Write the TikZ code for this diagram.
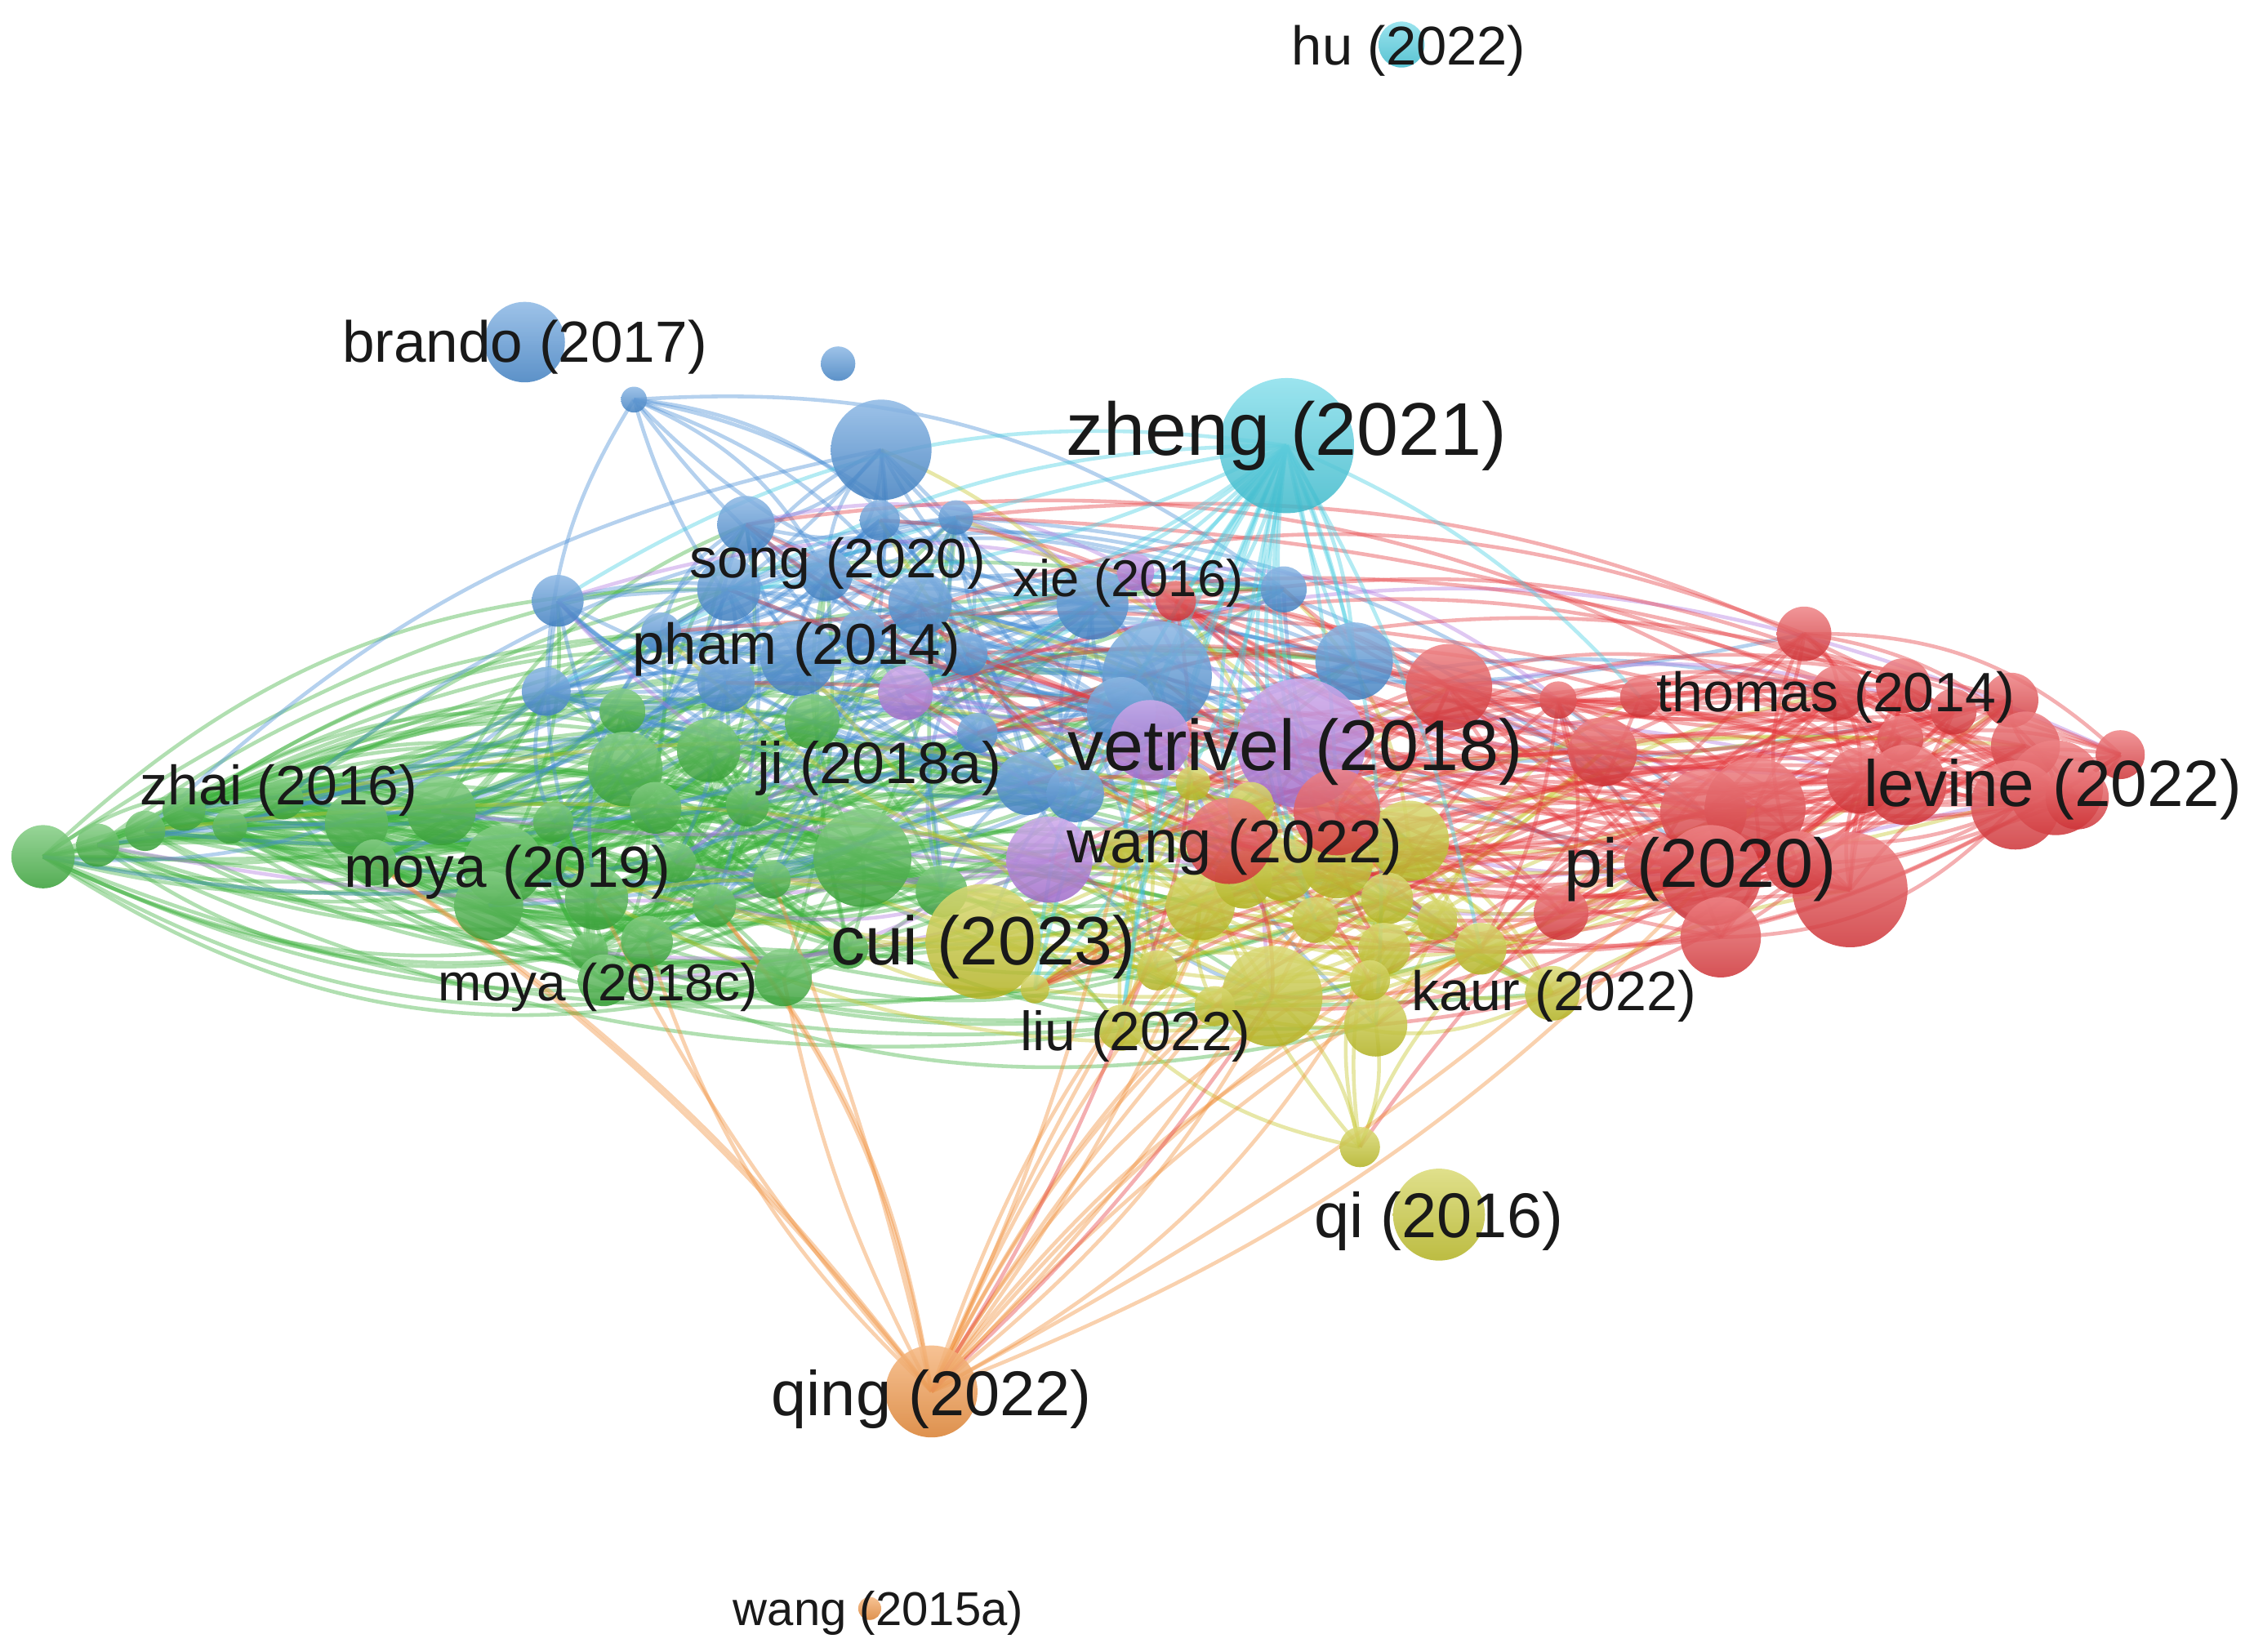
\documentclass[tikz,border=0pt]{standalone}
\usepackage{fontspec}
\setmainfont{Liberation Sans}
\usetikzlibrary{calc}
\definecolor{cG}{RGB}{60,176,60}
\definecolor{cB}{RGB}{70,140,212}
\definecolor{cR}{RGB}{228,56,60}
\definecolor{cY}{RGB}{196,196,36}
\definecolor{cP}{RGB}{176,118,222}
\definecolor{cC}{RGB}{66,204,224}
\definecolor{cO}{RGB}{240,140,52}
\definecolor{txt}{RGB}{25,25,25}
\tikzset{
  ball/.style={circle, inner sep=0pt, top color=#1!62!white, bottom color=#1!90!black, opacity=0.85},
  lnk/.style={draw=#1, opacity=0.4, line width=2.6pt},
  lab/.style={anchor=base, inner sep=0pt, text=txt, font=\fontsize{#1}{#1}\selectfont}
}
% colour, source from, source to, edges per source, target from, target to, min bend, max bend
\newcommand\edgeset[8]{%
  \foreach \es in {#2,...,#3}{%
    \foreach \ek in {1,...,#4}{%
      \pgfmathrandominteger{\tg}{#5}{#6}%
      \pgfmathsetmacro\bb{(2*random(0,1)-1)*random(#7,#8)}%
      \pgfmathsetmacro\bc{-\bb}%
      \ifnum\tg=\es\relax\else
        \draw[lnk=#1] (n\es) .. controls ($(n\es)!0.3915!\bb:(n\tg)$) and ($(n\tg)!0.3915!\bc:(n\es)$) .. (n\tg);
      \fi
    }%
  }%
}
\begin{document}
\begin{tikzpicture}[x=1pt,y=-1pt]
\useasboundingbox (0,0) rectangle (1568,1149);
% ---------------- node centres -------------
\foreach \i/\x/\y in {1/30/596,2/68/588,3/101/578,4/128/563,5/160/575,6/197/556,7/248/573,8/307/564,9/350/602,10/340/630,11/385/572,12/415/625,13/410/662,14/450/655,15/433/495,16/435/535,17/456/562,18/493/522,19/497/630,20/537/612,21/565/502,22/600/597,23/545/680,24/420/682,25/655/620,26/382/600,27/260/600,28/470/600,29/590/660,30/520/560,
31/441/278,32/613/313,33/519/365,34/612/362,35/665/360,36/388/418,37/507/410,38/640/420,39/380/481,40/505/475,41/555/458,42/672/455,43/760/420,44/893/410,45/805/470,46/780/495,47/942/460,48/715/545,49/748/552,50/575/400,51/600/440,52/460/440,53/680/510,54/365/238,55/583/253,
56/630/482,57/730/598,58/800/515,59/905/517,60/790/398,
61/684/655,62/805/675,63/720/688,64/780/715,65/835/630,66/865/612,67/893/605,68/930/600,69/980/585,70/965/625,71/963/660,72/885/693,73/957/713,74/953/682,75/1030/660,76/1080/691,77/830/545,78/870/560,79/915/640,80/845/700,81/1000/640,82/780/590,83/946/798,84/1001/845,
85/818/418,86/1008/478,87/930/565,88/855/585,89/1255/441,90/1084/487,91/1141/485,92/1115/523,93/1279/482,94/1324/477,95/1359/495,96/1399/487,97/1322/514,98/1475/525,99/1409/519,100/1430/548,101/1402/560,102/1326/546,103/1294/543,104/1185/565,105/1221/562,106/1190/609,107/1287/619,108/1197/652,109/1086/635,110/1445/555,111/1150/600,112/1250/600,
113/895/310,114/975/31,115/648/968,116/605/1119}
  \coordinate (n\i) at (\x,\y);
% ---------------- edges -------------
\pgfmathsetseed{4711}
% green
\edgeset{cG}{1}{30}{5}{1}{30}{12}{28}
\edgeset{cG}{1}{30}{2}{33}{53}{10}{22}
\edgeset{cG}{1}{30}{2}{56}{82}{10}{24}
\edgeset{cG}{1}{6}{6}{7}{30}{14}{28}
\edgeset{cG}{1}{6}{2}{36}{53}{10}{20}
% blue
\edgeset{cB}{32}{53}{4}{32}{53}{12}{28}
\edgeset{cB}{32}{53}{2}{1}{30}{10}{24}
\edgeset{cB}{32}{53}{1}{56}{112}{10}{22}
\edgeset{cB}{31}{31}{9}{33}{53}{15}{32}
% purple
\edgeset{cP}{56}{60}{4}{1}{82}{10}{24}
\edgeset{cP}{56}{60}{2}{85}{112}{10}{24}
% yellow
\edgeset{cY}{61}{82}{3}{61}{82}{12}{28}
\edgeset{cY}{61}{82}{1}{1}{82}{10}{24}
\edgeset{cY}{61}{82}{1}{85}{112}{10}{24}
\edgeset{cY}{83}{83}{6}{61}{82}{8}{22}
\edgeset{cY}{83}{83}{1}{104}{112}{30}{40}
% red
\edgeset{cR}{85}{112}{4}{85}{112}{12}{28}
\edgeset{cR}{85}{112}{2}{56}{83}{10}{24}
\edgeset{cR}{85}{112}{1}{33}{53}{10}{22}
% cyan fan
\edgeset{cC}{113}{113}{10}{33}{53}{6}{20}
\edgeset{cC}{113}{113}{20}{56}{92}{6}{20}
% orange fan
\edgeset{cO}{115}{115}{6}{19}{29}{4}{16}
\edgeset{cO}{115}{115}{2}{12}{14}{4}{14}
\edgeset{cO}{115}{115}{14}{61}{82}{4}{16}
\edgeset{cO}{115}{115}{3}{104}{111}{6}{16}
\edgeset{cR}{115}{115}{2}{61}{82}{4}{12}
% ---------------- node discs -------------
\foreach \i/\r in {1/22,2/15,3/14,4/15,5/12,6/14,7/22,8/24,9/28,10/24,11/14,12/22,13/13,14/18,15/16,16/26,17/18,18/22,19/15,20/13,21/19,22/34,23/20,24/18,25/18,26/12,27/16,28/14,29/14,30/15}
  \node[ball=cG, minimum size=2*\r] (g\i) at (n\i) {};
\foreach \i/\r in {31/9,32/35,33/20,34/14,35/12,36/18,37/22,38/22,39/17,40/20,41/26,42/15,43/25,44/16,45/38,46/24,47/27,48/22,49/20,50/18,51/16,52/14,53/14,54/28,55/12}
  \node[ball=cB, minimum size=2*\r] (b\i) at (n\i) {};
\foreach \i/\r in {56/19,57/30,58/28,59/45,60/13}
  \node[ball=cP, minimum size=2*\r] (p\i) at (n\i) {};
\foreach \i/\r in {61/40,62/14,63/10,64/16,65/24,66/20,67/22,68/25,69/28,70/18,71/18,72/35,73/22,74/14,75/18,76/19,77/12,78/16,79/16,80/14,81/14,82/14,83/14,84/32}
  \node[ball=cY, minimum size=2*\r] (y\i) at (n\i) {};
\foreach \i/\r in {85/14,86/30,87/30,88/30,89/19,90/13,91/14,92/24,93/19,94/19,95/16,96/19,97/16,98/17,99/24,100/33,101/31,102/28,103/23,104/30,105/35,106/35,107/40,108/28,109/19,110/22,111/20,112/22}
  \node[ball=cR, minimum size=2*\r] (r\i) at (n\i) {};
\node[ball=cC, minimum size=94] (c113) at (n113) {};
\node[ball=cC, minimum size=32] (c114) at (n114) {};
\node[ball=cO, minimum size=64] (o115) at (n115) {};
\node[ball=cO, minimum size=16] (o116) at (n116) {};
% ---------------- labels -------------
\node[lab=38] (L1) at (980,45) {hu (2022)};
\node[lab=52] (L2) at (895,317) {zheng (2021)};
\node[lab=50] (L3) at (901,536) {vetrivel (2018)};
\node[lab=45.5] (L4) at (1428,561) {levine (2022)};
\node[lab=48] (L5) at (1183,617) {pi (2020)};
\node[lab=47.7] (L6) at (684,671) {cui (2023)};
\node[lab=44] (L7) at (648,985) {qing (2022)};
\node[lab=44] (L8) at (1001,861) {qi (2016)};
\node[lab=40.4] (L9) at (365,252) {brando (2017)};
\node[lab=38.6] (L10) at (583,402) {song (2020)};
\node[lab=36] (L11) at (785,415) {xie (2016)};
\node[lab=40.2] (L12) at (554,462) {pham (2014)};
\node[lab=38.6] (L13) at (1277,495) {thomas (2014)};
\node[lab=40.8] (L14) at (612,545) {ji (2018a)};
\node[lab=38.6] (L15) at (194,560) {zhai (2016)};
\node[lab=40.4] (L16) at (353,617) {moya (2019)};
\node[lab=42] (L17) at (859,600) {wang (2022)};
\node[lab=36.3] (L18) at (416,696) {moya (2018c)};
\node[lab=38.7] (L19) at (1081,703) {kaur (2022)};
\node[lab=38.4] (L20) at (790,731) {liu (2022)};
\node[lab=33] (L21) at (611,1131) {wang (2015a)};
\end{tikzpicture}
\end{document}
